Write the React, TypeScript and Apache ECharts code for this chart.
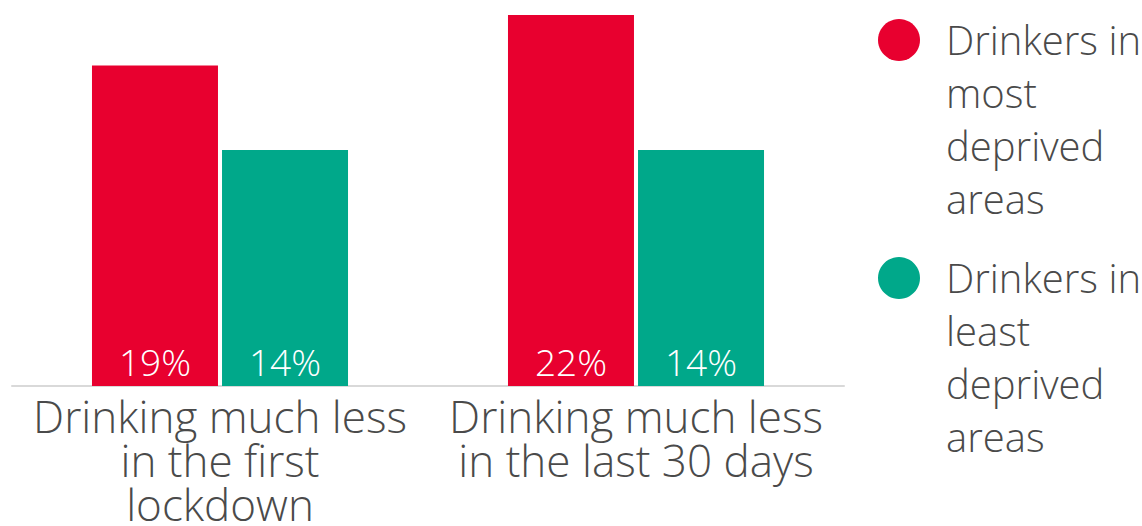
import React, { useEffect, useRef } from "react";
import * as echarts from "echarts";

const categories = ["Drinking much less\nin the first\nlockdown", "Drinking much less\nin the last 30 days"];
const seriesNames = ["Drinkers in most deprived areas", "Drinkers in least deprived areas"];
const legendLabels = ["Drinkers in\nmost\ndeprived\nareas", "Drinkers in\nleast\ndeprived\nareas"];
const mostDeprived = [19, 22];
const leastDeprived = [14, 14];
const colors = ["#e8002f", "#00a88a"];

const FONT = "'Open Sans', Lato, sans-serif";

export default function App() {
  const ref = useRef<HTMLDivElement>(null);
  useEffect(() => {
    if (!ref.current) return;
    const chart = echarts.init(ref.current, null, { renderer: "svg" });
    const label = {
      show: true,
      position: "insideBottom",
      distance: 6,
      color: "#ffffff",
      fontSize: 37,
      fontFamily: FONT,
      fontWeight: 300,
      formatter: "{c}%",
    };
    const legendTops = [40, 278];
    const legendGraphics: any[] = [];
    seriesNames.forEach((_, i) => {
      legendGraphics.push({
        type: "circle",
        shape: { cx: 899, cy: legendTops[i], r: 21 },
        style: { fill: colors[i] },
      });
      legendGraphics.push({
        type: "text",
        x: 946,
        y: legendTops[i] - 27,
        style: {
          text: legendLabels[i],
          fontSize: 40,
          lineHeight: 53,
          fill: "#4a4a4a",
          fontFamily: FONT,
          fontWeight: 300,
          verticalAlign: "top",
          align: "left",
        },
      });
    });
    chart.setOption({
      animation: false,
      grid: { left: 12, right: 298, top: 15, bottom: 139, containLabel: false },
      graphic: legendGraphics,
      xAxis: {
        type: "category",
        data: categories,
        axisLine: { lineStyle: { color: "#d9d9d9", width: 2 } },
        axisTick: { show: false },
        axisLabel: {
          interval: 0,
          fontSize: 44,
          lineHeight: 44,
          color: "#4a4a4a",
          fontFamily: FONT,
          fontWeight: 300,
          margin: 8,
        },
      },
      yAxis: {
        type: "value",
        min: 0,
        max: 22,
        show: false,
        splitLine: { show: false },
      },
      series: [
        {
          name: seriesNames[0],
          type: "bar",
          data: mostDeprived,
          barWidth: 126,
          barGap: "3.2%",
          itemStyle: { color: colors[0] },
          label,
        },
        {
          name: seriesNames[1],
          type: "bar",
          data: leastDeprived,
          barWidth: 126,
          barGap: "3.2%",
          itemStyle: { color: colors[1] },
          label,
        },
      ],
    });
    return () => chart.dispose();
  }, []);
  return (
    <div
      ref={ref}
      style={{ position: "fixed", left: 0, top: 0, width: 1142, height: 526, background: "#fff" }}
    />
  );
}
